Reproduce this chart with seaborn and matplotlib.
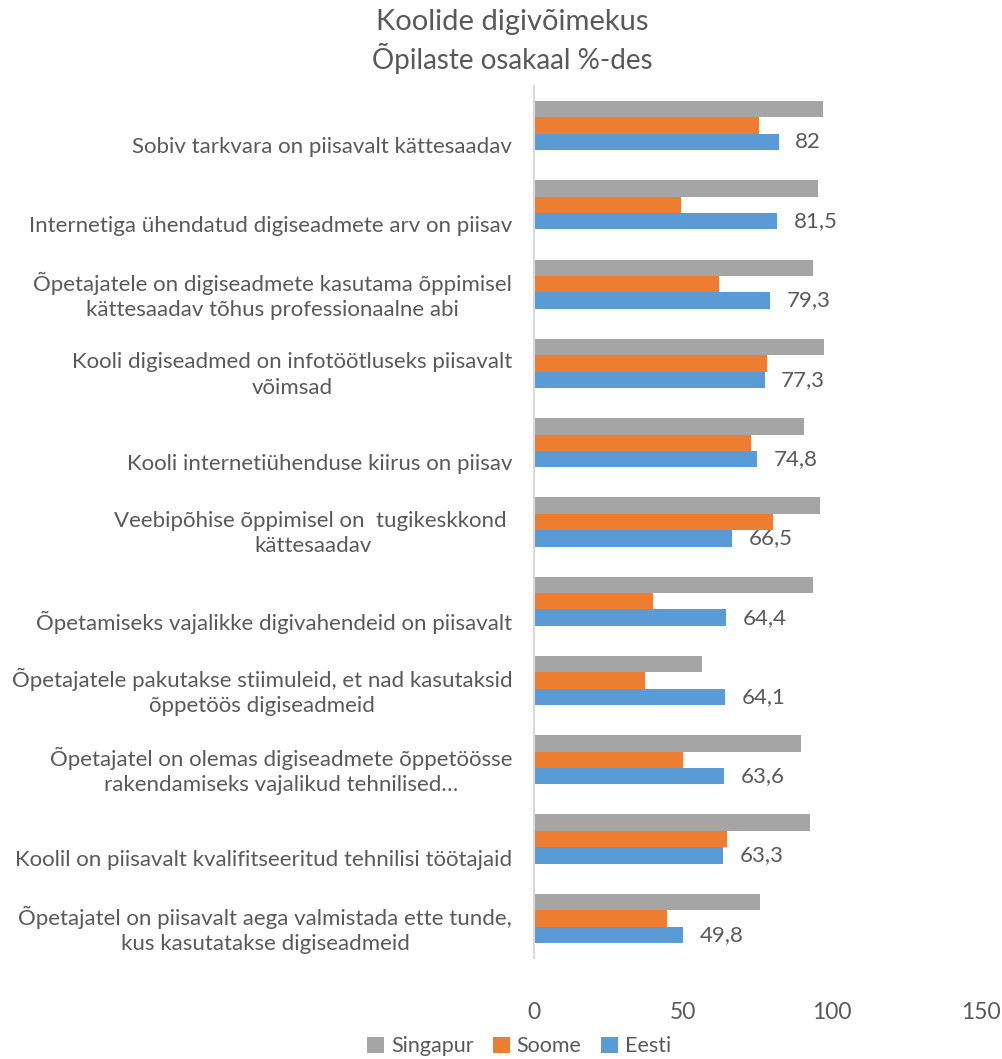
import matplotlib
matplotlib.use("Agg")
import matplotlib.pyplot as plt
import matplotlib.transforms as mtransforms
from matplotlib.patches import Patch
import seaborn as sns
import pandas as pd

# Indicators (top to bottom)
categories = [
    "Sobiv tarkvara on piisavalt kättesaadav",
    "Internetiga ühendatud digiseadmete arv on piisav",
    "Õpetajatele on digiseadmete kasutama õppimisel\nkättesaadav tõhus professionaalne abi",
    "Kooli digiseadmed on infotöötluseks piisavalt\nvõimsad",
    "Kooli internetiühenduse kiirus on piisav",
    "Veebipõhise õppimisel on  tugikeskkond \nkättesaadav",
    "Õpetamiseks vajalikke digivahendeid on piisavalt",
    "Õpetajatele pakutakse stiimuleid, et nad kasutaksid\nõppetöös digiseadmeid",
    "Õpetajatel on olemas digiseadmete õppetöösse\nrakendamiseks vajalikud tehnilised…",
    "Koolil on piisavalt kvalifitseeritud tehnilisi töötajaid",
    "Õpetajatel on piisavalt aega valmistada ette tunde,\nkus kasutatakse digiseadmeid",
]

singapur = [97.0, 95.1, 93.6, 97.2, 90.4, 95.8, 93.6, 56.3, 89.4, 92.7, 75.7]
soome = [75.4, 49.1, 61.9, 78.0, 72.7, 80.1, 39.7, 37.3, 50.0, 64.8, 44.4]
eesti = [82.0, 81.5, 79.3, 77.3, 74.8, 66.5, 64.4, 64.1, 63.6, 63.3, 49.8]

series_names = ["Singapur", "Soome", "Eesti"]
colors = ["#A5A5A5", "#ED7D31", "#5B9BD5"]
x_ticks = [0, 50, 100, 150]

title_main = "Koolide digivõimekus"
title_sub = "Õpilaste osakaal %-des"

df = pd.DataFrame({
    "kategooria": categories * 3,
    "riik": [s for s in series_names for _ in categories],
    "väärtus": singapur + soome + eesti,
})

sns.set_theme(style="white")
plt.rcParams["font.family"] = ["Lato", "DejaVu Sans"]
text_color = "#595959"

fig = plt.figure(figsize=(10.02, 10.59), dpi=100)
ax = fig.add_axes([0.5333, 0.0954, 0.4457, 0.8234])

sns.barplot(
    data=df, y="kategooria", x="väärtus", hue="riik",
    hue_order=series_names, order=categories, palette=colors,
    orient="h", width=0.62, saturation=1, ax=ax, legend=False,
    linewidth=0, errorbar=None,
)

ax.set_xlim(0, 150)
ax.set_xticks(x_ticks)
ax.set_xticklabels([str(t) for t in x_ticks], fontsize=16.5, color=text_color)
ax.tick_params(axis="x", length=0, pad=32)
ax.tick_params(axis="y", length=0, pad=16)
ax.set_xlabel("")
ax.set_ylabel("")

for side in ["top", "right", "bottom"]:
    ax.spines[side].set_visible(False)
ax.spines["left"].set_color("#D9D9D9")
ax.spines["left"].set_linewidth(1.5)

# Category labels: centred multi-line text, shifted down a little
for lbl in ax.get_yticklabels():
    lbl.set_fontsize(16)
    lbl.set_color(text_color)
    lbl.set_multialignment("center")
    lbl.set_linespacing(1.32)
    n_lines = lbl.get_text().count("\n") + 1
    dy = -19 if n_lines == 1 else -7
    offset = mtransforms.ScaledTranslation(0, dy / 100, fig.dpi_scale_trans)
    lbl.set_transform(lbl.get_transform() + offset)

# Value labels on the Eesti bars
eesti_bars = ax.containers[2]
ax.bar_label(
    eesti_bars,
    labels=[f"{v:.1f}".replace(".0", "").replace(".", ",") for v in eesti],
    padding=12, fontsize=16, color=text_color,
)

fig.text(0.511, 0.979, title_main, ha="center", va="center",
         fontsize=21, color=text_color)
fig.text(0.511, 0.945, title_sub, ha="center", va="center",
         fontsize=20, color=text_color)

handles = [Patch(facecolor=c, edgecolor="none") for c in colors]
fig.legend(
    handles, series_names, loc="center", bbox_to_anchor=(0.518, 0.012),
    ncol=3, frameon=False, fontsize=15.5, handlelength=0.8, handleheight=0.8,
    handletextpad=0.3, columnspacing=0.9, labelcolor=text_color,
)

fig.savefig("out.png", dpi=100, facecolor="white")
